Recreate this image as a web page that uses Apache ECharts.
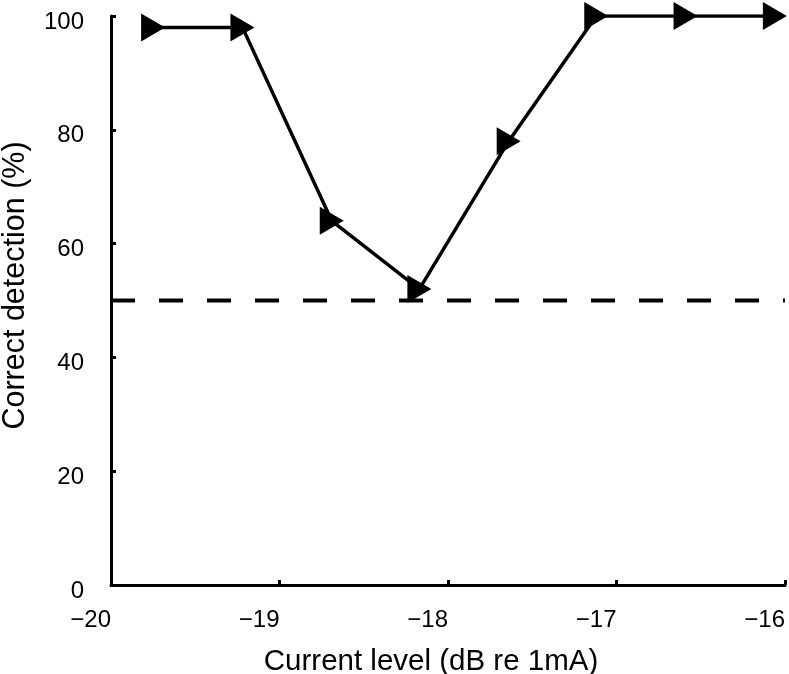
<!DOCTYPE html>
<html>
<head>
<meta charset="utf-8">
<script src="https://cdn.jsdelivr.net/npm/echarts@6/dist/echarts.min.js"></script>
<style>
html,body{margin:0;padding:0;background:#fff;}
#chart{width:789px;height:674px;}
</style>
</head>
<body>
<div id="chart"></div>
<script>
// Data
const currentLevel = [-19.75, -19.22, -18.69, -18.17, -17.64, -17.12, -16.59, -16.06];
const correctDetection = [98, 98, 64, 52, 78, 100, 100, 100];
const chanceLevel = 50;
const xRange = [-20, -16];
const xTicks = [-20, -19, -18, -17, -16];
const yTicks = [0, 20, 40, 60, 80, 100];

const FONT = '"Liberation Sans", Arial, sans-serif';
const chart = echarts.init(document.getElementById('chart'), null, {renderer: 'canvas'});

const fmtMinus = v => String(v).replace('-', '\u2212');

chart.setOption({
  animation: false,
  backgroundColor: '#fff',
  grid: {left: 111, right: 4, top: 16, bottom: 89, containLabel: false, outerBoundsMode: 'none'},
  xAxis: {
    type: 'value',
    min: xTicks[0], max: xTicks[xTicks.length - 1], interval: 1,
    name: 'Current level (dB re 1mA)',
    nameLocation: 'middle',
    nameGap: 62,
    nameTextStyle: {fontFamily: FONT, fontSize: 29.5, color: '#000', padding: [0, 34, 0, 0]},
    axisLine: {show: true, lineStyle: {color: '#000', width: 3}},
    axisTick: {show: true, inside: true, length: 5, lineStyle: {color: '#000', width: 3}},
    axisLabel: {fontFamily: FONT, fontSize: 24, color: '#000', margin: 23, align: 'right', formatter: fmtMinus},
    splitLine: {show: false}
  },
  yAxis: {
    type: 'value',
    min: yTicks[0], max: yTicks[yTicks.length - 1], interval: 20,
    name: 'Correct detection (%)',
    nameLocation: 'middle',
    nameGap: 80,
    nameRotate: 90,
    nameTextStyle: {fontFamily: FONT, fontSize: 30.5, color: '#000', padding: [0, 0, 0, 30]},
    axisLine: {show: true, lineStyle: {color: '#000', width: 3}},
    axisTick: {show: true, inside: true, length: 5, lineStyle: {color: '#000', width: 3}},
    axisLabel: {fontFamily: FONT, fontSize: 24, color: '#000', margin: 27, verticalAlign: 'top', lineHeight: 12},
    splitLine: {show: false}
  },
  series: [
    {
      type: 'line',
      data: xRange.map(x => [x, chanceLevel]),
      symbol: 'none',
      lineStyle: {color: '#000', width: 4, type: [24, 24]},
      silent: true,
      z: 1
    },
    {
      type: 'line',
      data: currentLevel.map((x, i) => [x, correctDetection[i]]),
      symbol: 'triangle',
      symbolSize: [28, 24],
      symbolRotate: -90,
      itemStyle: {color: '#000'},
      lineStyle: {color: '#000', width: 3.5},
      z: 3
    }
  ]
});
</script>
</body>
</html>
